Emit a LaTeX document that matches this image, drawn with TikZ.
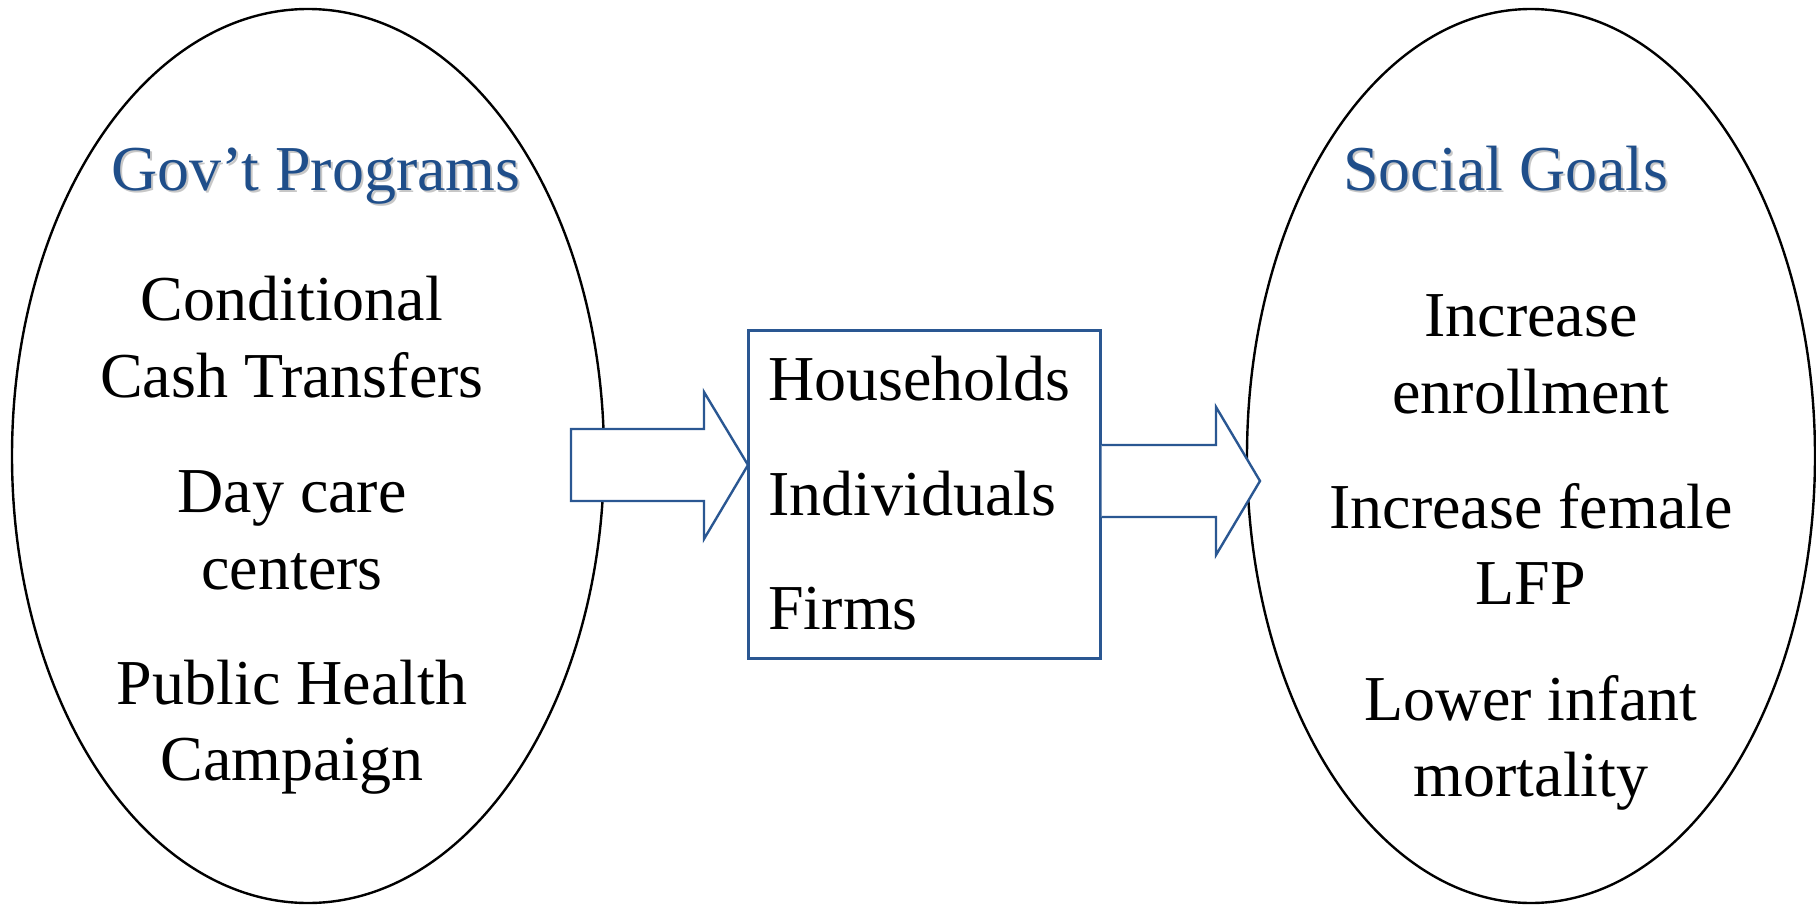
\documentclass[tikz,border=0pt]{standalone}
\usepackage{fontspec}
\setmainfont{Liberation Serif}
\usetikzlibrary{shapes.geometric}
\definecolor{tblue}{HTML}{1F4E8A}
\definecolor{lblue}{HTML}{2A5792}
\begin{document}
\begin{tikzpicture}[x=0.5pt,y=-0.5pt,
  txt/.style={anchor=base, inner sep=0pt, font=\fontsize{32}{38}\selectfont},
  ttl/.style={txt, text=tblue},
  shd/.style={txt, text=black!22},
  oval/.style={draw=black, line width=1.2pt, ellipse, inner sep=0pt},
  blockarrow/.style={draw=lblue, fill=white, line width=1.2pt, line join=miter},
  agentbox/.style={draw=lblue, line width=1.5pt, inner sep=0pt}]
\useasboundingbox (0,0) rectangle (1816,905);
% ellipses
\node[oval, minimum width=296pt, minimum height=447pt] (gov) at (308,456) {};
\node[oval, minimum width=284pt, minimum height=447pt] (goals) at (1531,456) {};
% middle box
\node[agentbox, minimum width=176pt, minimum height=164pt] (box) at (924,494) {};
% block arrows
\coordinate (lt) at (748,465);
\coordinate (rt) at (1260,481);
\draw[blockarrow] (571,429) -- (704,429) -- (704,392) -- (lt) -- (704,539) -- (704,501) -- (571,501) -- cycle;
\draw[blockarrow] (box.east |- 0,445) -- (1216,445) -- (1216,407) -- (rt) -- (1216,555) -- (1216,517) -- (box.east |- 0,517);
% titles
\node[shd] (govs) at (318,192) {Gov’t Programs};
\node[ttl] (govt) at (316,190) {Gov’t Programs};
\node[shd] (goalss) at (1508,192) {Social Goals};
\node[ttl] (goalt) at (1506,190) {Social Goals};
% left items
\node[txt] (l1) at (292,320) {Conditional};
\node[txt] (l2) at (292,397) {Cash Transfers};
\node[txt] (l3) at (292,512) {Day care};
\node[txt] (l4) at (292,589) {centers};
\node[txt] (l5) at (292,704) {Public Health};
\node[txt] (l6) at (292,780) {Campaign};
% right items
\node[txt] (r1) at (1531,336) {Increase};
\node[txt] (r2) at (1531,413) {enrollment};
\node[txt] (r3) at (1531,528) {Increase female};
\node[txt] (r4) at (1531,604) {LFP};
\node[txt] (r5) at (1531,720) {Lower infant};
\node[txt] (r6) at (1531,796) {mortality};
% box items
\node[txt, anchor=base west] (b1) at (768,400) {Households};
\node[txt, anchor=base west] (b2) at (768,515) {Individuals};
\node[txt, anchor=base west] (b3) at (768,629) {Firms};
\end{tikzpicture}
\end{document}
